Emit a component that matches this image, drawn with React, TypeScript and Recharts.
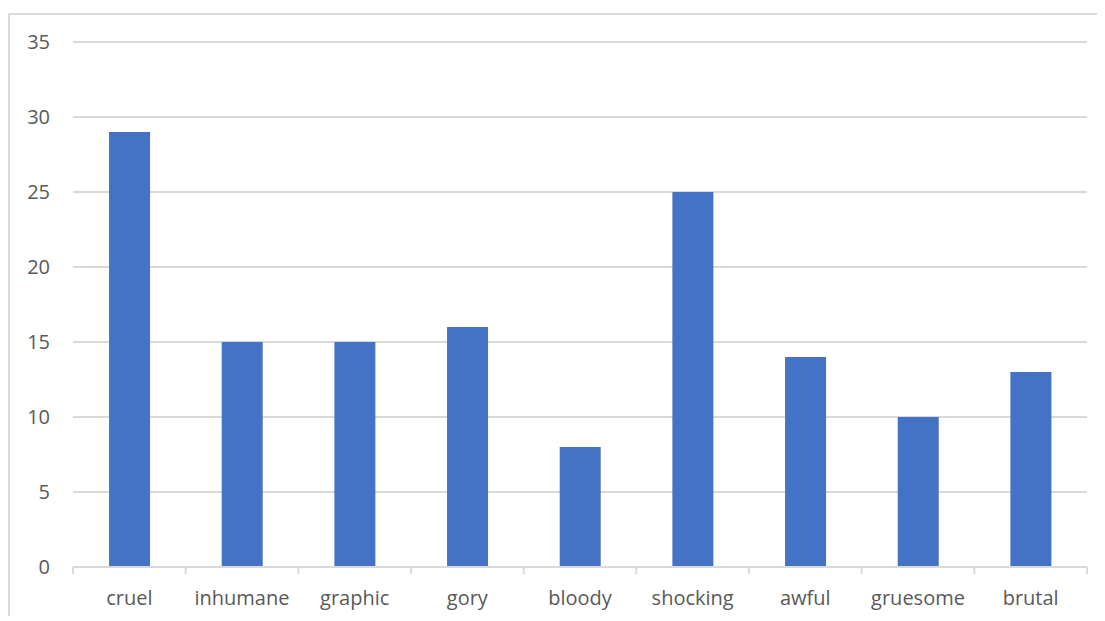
import { BarChart, Bar, XAxis, YAxis, CartesianGrid } from "recharts";

const words = ["cruel", "inhumane", "graphic", "gory", "bloody", "shocking", "awful", "gruesome", "brutal"];
const counts = [29, 15, 15, 16, 8, 25, 14, 10, 13];
const yTicks = [0, 5, 10, 15, 20, 25, 30, 35];

const data = words.map((word, i) => ({ word, count: counts[i] }));

const W = 1095;
const H = 600;
const M = { top: 27, right: 18, bottom: 0, left: 0 };
const Y_AXIS_W = 63;
const X_AXIS_H = 48;
const BAND = (W - M.left - M.right - Y_AXIS_W) / words.length;
const LABEL_GAP = 22;

const FONT = "'Open Sans', sans-serif";
const FONT_SIZE = 20;
const TEXT = "#595959";
const LINE = "#d9d9d9";

// category label plus Excel-style tick marks on the band edges
function WordTick(props: any) {
  const { x, y, payload, index } = props;
  const axisY = y - LABEL_GAP;
  const left = x - BAND / 2;
  const right = x + BAND / 2;
  return (
    <g>
      <line x1={left} x2={left} y1={axisY} y2={axisY + 7} stroke={LINE} strokeWidth={2} />
      {index === words.length - 1 && (
        <line x1={right} x2={right} y1={axisY} y2={axisY + 7} stroke={LINE} strokeWidth={2} />
      )}
      <text x={x} y={y} dy={16} textAnchor="middle" fill={TEXT} fontSize={FONT_SIZE} fontFamily={FONT}>
        {payload.value}
      </text>
    </g>
  );
}

export default function App() {
  return (
    <div
      style={{
        marginTop: 5,
        width: 1097,
        height: 603,
        borderLeft: `2px solid ${LINE}`,
        borderTop: `2px solid ${LINE}`,
        boxSizing: "border-box",
        background: "#fff",
      }}
    >
      <BarChart width={W} height={H} data={data} margin={M} barCategoryGap="32%">
        <CartesianGrid vertical={false} stroke={LINE} strokeWidth={2} />
        <XAxis
          dataKey="word"
          height={X_AXIS_H}
          stroke={LINE}
          strokeWidth={2}
          tickLine={false}
          tickSize={0}
          tickMargin={LABEL_GAP}
          interval={0}
          tick={<WordTick />}
        />
        <YAxis
          width={Y_AXIS_W}
          domain={[0, 35]}
          ticks={yTicks}
          axisLine={false}
          tickLine={false}
          tickSize={0}
          tickMargin={23}
          tick={{ fill: TEXT, fontSize: FONT_SIZE, fontFamily: FONT }}
        />
        <Bar dataKey="count" fill="#4472C4" isAnimationActive={false} />
      </BarChart>
    </div>
  );
}
